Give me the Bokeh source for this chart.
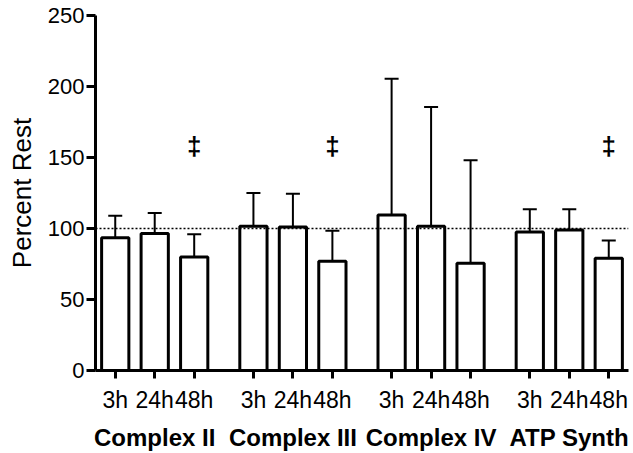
from bokeh.plotting import figure
from bokeh.models import ColumnDataSource, FactorRange, Whisker, TeeHead, Span, FixedTicker
from bokeh.core.properties import value
from bokeh.embed import file_html
from bokeh.resources import INLINE

groups = ["Complex II", "Complex III", "Complex IV", "ATP Synth"]
times = ["3h", "24h", "48h"]

means_c2 = [93.5, 96.5, 80.0]
means_c3 = [101.5, 101.0, 77.0]
means_c4 = [109.5, 101.5, 75.5]
means_atp = [97.5, 99.0, 79.0]

err_c2 = [15.5, 14.5, 16.0]
err_c3 = [23.5, 23.5, 21.5]
err_c4 = [96.0, 84.0, 72.5]
err_atp = [16.0, 14.5, 12.5]

sig_c2 = [False, False, True]
sig_c3 = [False, False, True]
sig_c4 = [False, False, False]
sig_atp = [False, False, True]

y_ticks = [0, 50, 100, 150, 200, 250]
reference_level = 100
dagger_level = 158
dagger_symbol = "\u2021"

FONT = "Liberation Sans"

all_means = [means_c2, means_c3, means_c4, means_atp]
all_errs = [err_c2, err_c3, err_c4, err_atp]
all_sigs = [sig_c2, sig_c3, sig_c4, sig_atp]

xs, tops, uppers = [], [], []
dx, dy, dt = [], [], []
for g, ms, es, ss in zip(groups, all_means, all_errs, all_sigs):
    for t, m, e, s in zip(times, ms, es, ss):
        xs.append((g, t))
        tops.append(m)
        uppers.append(m + e)
        if s:
            dx.append((g, t))
            dy.append(dagger_level)
            dt.append(dagger_symbol)

src = ColumnDataSource(data=dict(x=xs, top=tops, upper=uppers))
dsrc = ColumnDataSource(data=dict(x=dx, y=dy, t=dt))

p = figure(
    x_range=FactorRange(*xs, group_padding=0.5, factor_padding=0.0),
    y_range=(0, 250),
    width=630, height=453,
    output_backend="svg", toolbar_location=None,
    min_border_left=95, min_border_right=2, min_border_top=15, min_border_bottom=82,
)
p.outline_line_color = None
p.xgrid.visible = False
p.ygrid.visible = False

p.vbar(x="x", top="top", width=0.69, source=src,
       fill_color="white", line_color="black", line_width=3)

wh = Whisker(base="x", lower="top", upper="upper", source=src,
             upper_head=TeeHead(size=14, line_width=2, line_color="black"),
             lower_head=None, line_width=2, line_color="black")
p.add_layout(wh)

p.add_layout(Span(location=reference_level, dimension="width",
                  line_dash="2 2", line_width=1.3, line_color="black"))

p.text(x="x", y="y", text="t", source=dsrc, text_font=value(FONT),
       text_font_size="26px", text_font_style="bold", text_align="center",
       text_baseline="middle", text_color="black")

# y axis
p.yaxis.ticker = FixedTicker(ticks=y_ticks)
p.yaxis.axis_label = "Percent Rest"
p.yaxis.axis_label_text_font = FONT
p.yaxis.axis_label_text_font_size = "26px"
p.yaxis.axis_label_text_font_style = "normal"
p.yaxis.axis_label_text_color = "black"
p.yaxis.axis_label_standoff = 8
p.yaxis.major_label_text_font = FONT
p.yaxis.major_label_text_font_size = "22px"
p.yaxis.major_label_text_color = "black"
p.yaxis.axis_line_width = 3
p.yaxis.axis_line_color = "black"
p.yaxis.major_tick_line_width = 3
p.yaxis.major_tick_line_color = "black"
p.yaxis.major_tick_out = 9
p.yaxis.major_tick_in = 0
p.yaxis.minor_tick_line_color = None
p.yaxis.major_label_standoff = 2

# x axis
p.xaxis.axis_line_width = 3
p.xaxis.axis_line_color = "black"
p.xaxis.major_tick_line_width = 3
p.xaxis.major_tick_line_color = "black"
p.xaxis.major_tick_out = 8
p.xaxis.major_tick_in = 0
p.xaxis.minor_tick_line_color = None
p.xaxis.major_label_text_font = FONT
p.xaxis.major_label_text_font_size = "23px"
p.xaxis.major_label_text_color = "black"
p.xaxis.major_label_standoff = 8
p.xaxis.group_text_font = FONT
p.xaxis.group_text_font_size = "24px"
p.xaxis.group_text_font_style = "bold"
p.xaxis.group_text_color = "black"
p.xaxis.separator_line_alpha = 0

open("out.html", "w").write(file_html(p, INLINE))
